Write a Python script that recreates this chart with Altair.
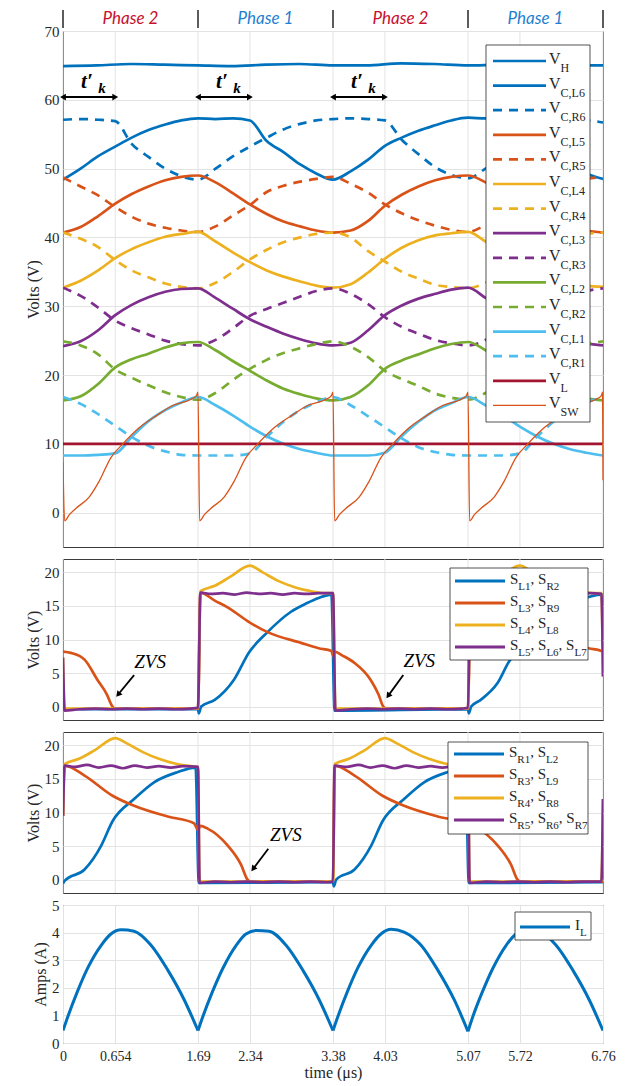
import math
import altair as alt
import pandas as pd

# ---------------- values ----------------
XT = [0, 0.654, 1.69, 2.34, 3.38, 4.03, 5.07, 5.72, 6.76]
PHASE_BOUNDS = [0, 1.69, 3.38, 5.07, 6.76]
PHASE_LABELS = ["Phase 2", "Phase 1", "Phase 2", "Phase 1"]
TK_START = [0, 1.69, 3.38]
TK_END = [0.654, 2.34, 4.03]

# common time grid for the capacitor voltages (us)
T = [0, 0.22, 0.44, 0.654, 0.86, 1.07, 1.28, 1.48, 1.69,
     1.91, 2.13, 2.34, 2.55, 2.76, 2.97, 3.17, 3.38,
     3.60, 3.82, 4.03, 4.24, 4.45, 4.66, 4.86, 5.07,
     5.29, 5.51, 5.72, 5.93, 6.14, 6.35, 6.55, 6.76]

VH_T = [0, 0.42, 0.85, 1.27, 1.69, 2.11, 2.54, 2.96, 3.38, 3.80, 4.23, 4.65, 5.07, 5.49, 5.92, 6.34, 6.76]
VH = [64.9, 65.0, 65.2, 65.1, 65.0, 64.9, 65.1, 65.2, 65.0, 65.0, 65.3, 65.2, 65.0, 65.1, 64.9, 65.0, 65.0]
VL_T = [0, 6.76]
VL = [10.0, 10.0]

VC_L6 = [48.4, 50.0, 51.8, 53.2, 54.5, 55.6, 56.4, 57.0, 57.3,
         57.2, 57.3, 57.0, 54.0, 52.4, 50.6, 49.3, 48.4,
         49.6, 51.3, 53.3, 54.5, 55.5, 56.3, 57.0, 57.4,
         57.3, 57.3, 57.0, 54.0, 52.4, 50.6, 49.3, 48.5]
VC_R6 = [57.1, 57.2, 57.1, 56.9, 53.6, 51.7, 50.0, 48.9, 48.4,
         50.0, 51.8, 53.2, 54.5, 55.7, 56.5, 57.0, 57.2,
         57.3, 57.2, 57.0, 54.2, 52.1, 50.2, 49.1, 48.6,
         50.0, 51.8, 53.2, 54.5, 55.7, 56.5, 57.0, 56.7]
VC_L5 = [40.7, 41.5, 43.1, 44.9, 46.3, 47.4, 48.3, 48.8, 49.0,
         48.0, 46.4, 44.8, 43.4, 42.3, 41.6, 41.0, 40.7,
         41.0, 42.4, 44.6, 46.2, 47.4, 48.3, 48.8, 49.0,
         48.0, 46.4, 44.8, 43.4, 42.3, 41.6, 41.0, 40.7]
VC_R5 = [48.7, 47.4, 46.1, 44.4, 43.0, 42.0, 41.4, 41.0, 40.8,
         41.6, 43.2, 44.7, 46.6, 47.5, 48.1, 48.5, 48.8,
         47.8, 46.5, 44.8, 43.5, 42.5, 41.7, 41.1, 40.8,
         41.8, 43.3, 44.7, 46.6, 47.5, 48.1, 48.5, 48.8]
VC_L4 = [32.7, 33.7, 35.2, 37.0, 38.3, 39.3, 40.1, 40.5, 40.8,
         39.4, 37.8, 36.4, 35.2, 34.3, 33.6, 33.0, 32.7,
         33.2, 34.9, 36.9, 38.5, 39.6, 40.3, 40.6, 40.8,
         39.4, 37.8, 36.4, 35.2, 34.2, 33.5, 33.0, 32.8]
VC_R4 = [40.7, 39.8, 38.6, 36.7, 35.2, 34.2, 33.3, 32.8, 32.6,
         33.4, 35.0, 36.8, 38.2, 39.3, 40.0, 40.5, 40.7,
         40.0, 38.0, 36.5, 35.0, 34.0, 33.1, 32.8, 32.6,
         33.4, 35.0, 36.8, 38.2, 39.3, 40.0, 40.5, 40.7]
VC_L3 = [24.2, 24.9, 26.5, 28.7, 30.2, 31.3, 32.1, 32.5, 32.6,
         31.2, 29.6, 28.1, 27.0, 26.0, 25.2, 24.6, 24.3,
         24.7, 26.5, 28.7, 30.1, 31.1, 31.8, 32.4, 32.7,
         31.2, 29.6, 28.1, 27.0, 26.0, 25.2, 24.6, 24.3]
VC_R3 = [32.7, 31.5, 29.8, 27.9, 26.8, 25.9, 25.0, 24.5, 24.3,
         25.1, 26.8, 28.6, 29.6, 30.5, 31.4, 32.2, 32.6,
         31.8, 30.3, 28.4, 27.0, 26.0, 25.1, 24.6, 24.3,
         25.1, 26.8, 28.6, 29.6, 30.5, 31.4, 32.2, 32.6]
VC_L2 = [16.3, 16.9, 18.7, 21.1, 22.3, 23.1, 24.0, 24.6, 24.8,
         23.6, 22.0, 20.6, 19.2, 18.0, 17.2, 16.6, 16.3,
         16.8, 18.5, 20.9, 22.1, 23.0, 23.9, 24.5, 24.8,
         23.6, 22.0, 20.6, 19.2, 18.0, 17.2, 16.6, 16.3]
VC_R2 = [24.9, 24.3, 23.0, 20.8, 19.6, 18.5, 17.5, 16.8, 16.4,
         17.4, 19.3, 20.9, 22.2, 23.2, 23.9, 24.5, 24.9,
         24.1, 22.6, 20.6, 19.4, 18.4, 17.3, 16.7, 16.4,
         17.4, 19.3, 20.9, 22.2, 23.2, 23.9, 24.5, 24.9]
VC_L1 = [8.3, 8.3, 8.4, 8.6, 11.0, 13.3, 14.9, 16.0, 16.8,
         15.6, 14.1, 12.5, 11.1, 10.0, 9.2, 8.7, 8.3,
         8.3, 8.3, 8.7, 11.1, 13.2, 14.9, 15.9, 16.8,
         15.6, 14.1, 12.5, 11.1, 10.0, 9.2, 8.7, 8.3]
VC_R1 = [16.8, 15.8, 14.3, 12.6, 11.0, 9.7, 8.9, 8.4, 8.3,
         8.3, 8.3, 8.6, 11.0, 13.2, 14.9, 16.0, 16.8,
         15.6, 14.0, 12.4, 10.8, 9.5, 8.8, 8.4, 8.3,
         8.3, 8.3, 8.6, 11.0, 13.2, 14.9, 16.0, 16.8]

VSW_T = [0, 0.02, 0.08, 0.16, 0.33, 0.45, 0.60, 0.75, 0.96, 1.17, 1.38, 1.59, 1.67, 1.69,
         1.71, 1.77, 1.85, 2.02, 2.14, 2.29, 2.44, 2.65, 2.86, 3.07, 3.28, 3.36, 3.38,
         3.40, 3.46, 3.54, 3.71, 3.83, 3.98, 4.13, 4.34, 4.55, 4.76, 4.97, 5.05, 5.07,
         5.09, 5.15, 5.23, 5.40, 5.52, 5.67, 5.82, 6.03, 6.24, 6.45, 6.66, 6.74, 6.755, 6.76]
VSW = [7.4, -1.2, -0.3, 0.6, 2.3, 4.5, 8.0, 10.0, 12.4, 14.1, 15.6, 16.4, 17.0, 17.5,
       -1.2, -0.3, 0.6, 2.3, 4.5, 8.0, 10.0, 12.4, 14.1, 15.6, 16.4, 17.0, 17.5,
       -1.2, -0.3, 0.6, 2.3, 4.5, 8.0, 10.0, 12.4, 14.1, 15.6, 16.4, 17.0, 17.5,
       -1.2, -0.3, 0.6, 2.3, 4.5, 8.0, 10.0, 12.4, 14.1, 15.6, 16.4, 17.0, 17.5, 4.7]

# panel 2 : S_L switches
P2_BLUE_T = [0, 0.02, 1.69, 1.70, 1.73, 1.9, 2.14, 2.33, 2.56, 2.85, 3.05, 3.2, 3.36, 3.40,
             5.07, 5.08, 5.11, 5.23, 5.44, 5.6, 5.72, 5.95, 6.24, 6.5, 6.74, 6.76]
P2_BLUE = [-0.4, -0.4, -0.4, -1.0, 0.0, 1.0, 4.0, 8.1, 11.1, 14.1, 15.4, 16.2, 16.7, -0.6,
           -0.4, -1.0, 0.0, 1.0, 3.5, 7.0, 8.3, 11.3, 14.2, 16.0, 16.7, 16.7]
P2_ORANGE_T = [0, 0.1, 0.27, 0.43, 0.55, 0.62, 0.66,
               1.69, 1.72, 1.9, 2.06, 2.33, 2.56, 2.98, 3.2, 3.36, 3.38,
               3.40, 3.5, 3.65, 3.85, 3.95, 4.01, 4.05,
               5.07, 5.10, 5.28, 5.44, 5.71, 5.94, 6.36, 6.58, 6.74, 6.76]
P2_ORANGE = [8.2, 8.0, 7.0, 4.0, 1.8, 0.0, -0.3,
             -0.3, 17.0, 15.8, 14.8, 12.6, 11.1, 9.5, 8.7, 8.3, 7.6,
             8.2, 7.6, 6.5, 4.0, 1.8, 0.0, -0.3,
             -0.3, 17.0, 15.8, 14.8, 12.6, 11.1, 9.5, 8.7, 8.3, 8.2]
P2_YELLOW_T = [0, 0.02, 1.69, 1.72, 1.9, 2.1, 2.34, 2.5, 2.7, 2.9, 3.1, 3.3, 3.38,
               3.41, 5.07, 5.10, 5.28, 5.48, 5.72, 5.88, 6.08, 6.28, 6.48, 6.68, 6.74, 6.76]
P2_YELLOW = [7.3, -0.3, -0.3, 17.2, 18.0, 19.4, 21.0, 20.0, 18.7, 17.8, 17.2, 16.9, 16.9,
             -0.3, -0.3, 17.2, 18.0, 19.4, 21.0, 20.0, 18.7, 17.8, 17.2, 16.9, 16.9, 4.5]
P2_PURPLE_T = [0, 0.02, 0.2, 0.4, 0.6, 0.8, 1.0, 1.2, 1.4, 1.6, 1.69,
               1.72, 1.85, 2.0, 2.15, 2.3, 2.45, 2.6, 2.75, 2.9, 3.05, 3.2, 3.38,
               3.41, 3.6, 3.8, 4.0, 4.2, 4.4, 4.6, 4.8, 5.0, 5.07,
               5.10, 5.25, 5.4, 5.55, 5.7, 5.85, 6.0, 6.15, 6.3, 6.45, 6.6, 6.74, 6.76]
P2_PURPLE = [7.3, -0.6, -0.4, -0.3, -0.4, -0.3, -0.4, -0.3, -0.4, -0.3, -0.2,
             17.0, 16.8, 16.9, 16.7, 17.0, 16.8, 16.9, 16.7, 16.9, 16.8, 16.9, 16.9,
             -0.6, -0.4, -0.3, -0.4, -0.3, -0.4, -0.3, -0.4, -0.3, -0.2,
             17.0, 16.8, 16.9, 16.7, 17.0, 16.8, 16.9, 16.7, 16.9, 16.8, 16.9, 16.8, 4.5]

# panel 3 : S_R switches
P3_BLUE_T = [0, 0.02, 0.27, 0.48, 0.62, 0.89, 1.14, 1.43, 1.66, 1.70, 3.38,
             3.39, 3.42, 3.65, 3.86, 4.0, 4.27, 4.52, 4.81, 5.04, 5.08, 6.76]
P3_BLUE = [-0.6, -0.2, 1.5, 5.1, 8.7, 12.0, 14.5, 16.0, 16.7, -0.5, -0.4,
           -1.0, 0.0, 1.5, 5.1, 8.7, 12.0, 14.5, 16.0, 16.7, -0.5, -0.4]
P3_ORANGE_T = [0, 0.02, 0.27, 0.62, 0.89, 1.31, 1.64, 1.69, 1.72, 1.81, 2.06, 2.23, 2.31, 2.35,
               3.38, 3.40, 3.65, 4.0, 4.27, 4.69, 5.02, 5.07, 5.10, 5.19, 5.44, 5.61, 5.69, 5.73, 6.76]
P3_ORANGE = [9.5, 17.0, 15.5, 12.5, 11.0, 9.4, 8.4, 7.4, 8.0, 7.6, 5.1, 2.2, 0.0, -0.3,
             -0.3, 17.0, 15.5, 12.5, 11.0, 9.4, 8.4, 7.4, 8.0, 7.6, 5.1, 2.2, 0.0, -0.3, -0.3]
P3_YELLOW_T = [0, 0.02, 0.2, 0.4, 0.654, 0.8, 1.0, 1.2, 1.4, 1.6, 1.69, 1.71, 3.38,
               3.40, 3.58, 3.78, 4.03, 4.18, 4.38, 4.58, 4.78, 4.98, 5.07, 5.09, 6.74, 6.76]
P3_YELLOW = [9.5, 17.2, 18.0, 19.3, 21.1, 20.3, 19.0, 18.0, 17.3, 16.9, 16.8, -0.3, -0.3,
             17.2, 18.0, 19.3, 21.1, 20.3, 19.0, 18.0, 17.3, 16.9, 16.8, -0.3, -0.3, 12.0]
P3_PURPLE_T = [0, 0.02, 0.15, 0.3, 0.45, 0.6, 0.75, 0.9, 1.05, 1.2, 1.35, 1.5, 1.69,
               1.71, 1.9, 2.1, 2.3, 2.5, 2.7, 2.9, 3.1, 3.3, 3.38,
               3.40, 3.55, 3.7, 3.85, 4.0, 4.15, 4.3, 4.45, 4.6, 4.75, 4.9, 5.07,
               5.09, 5.3, 5.5, 5.7, 5.9, 6.1, 6.3, 6.5, 6.74, 6.76]
P3_PURPLE = [9.5, 17.0, 16.8, 17.1, 16.7, 17.0, 16.6, 17.0, 16.7, 16.9, 16.7, 16.9, 16.8,
             -0.5, -0.3, -0.4, -0.3, -0.4, -0.3, -0.4, -0.3, -0.4, -0.3,
             17.0, 16.8, 17.1, 16.7, 17.0, 16.6, 17.0, 16.7, 16.9, 16.7, 16.9, 16.8,
             -0.5, -0.3, -0.4, -0.3, -0.4, -0.3, -0.4, -0.3, -0.3, 12.0]

# panel 4 : inductor current
IL_T = [0, 0.06, 0.18, 0.31, 0.48, 0.6, 0.73, 0.89, 1.1, 1.31, 1.52, 1.69,
        1.75, 1.87, 2.0, 2.17, 2.29, 2.42, 2.58, 2.79, 3.0, 3.21, 3.38,
        3.44, 3.56, 3.69, 3.86, 3.98, 4.11, 4.27, 4.48, 4.69, 4.90, 5.07,
        5.13, 5.25, 5.38, 5.55, 5.67, 5.80, 5.96, 6.17, 6.38, 6.59, 6.76]
IL = [0.45, 0.95, 1.86, 2.72, 3.55, 3.95, 4.1, 4.05, 3.55, 2.65, 1.55, 0.45,
      0.95, 1.85, 2.7, 3.55, 3.95, 4.08, 4.05, 3.55, 2.65, 1.55, 0.45,
      0.95, 1.86, 2.72, 3.55, 3.95, 4.12, 4.02, 3.55, 2.65, 1.55, 0.42,
      0.95, 1.85, 2.7, 3.55, 3.95, 4.1, 4.05, 3.55, 2.65, 1.55, 0.45]

ZVS2_TEXT = [(1.09, 6.7), (4.46, 6.8)]
ZVS2_ARROW = [(0.89, 4.7, 0.69, 1.8), (4.26, 4.7, 4.07, 1.6)]
ZVS3_TEXT = [(2.79, 6.6)]
ZVS3_ARROW = [(2.57, 4.6, 2.38, 1.6)]

# ---------------- styling ----------------
BLUE = "#0072BD"
ORANGE = "#D95319"
YELLOW = "#EDB120"
PURPLE = "#7E2F8E"
GREEN = "#77AC30"
LBLUE = "#4DBEEE"
DRED = "#A2142F"
PH_RED = "#C8102E"
PH_BLUE = "#1F7FD0"
AX = "#262626"
GRID = "#e3e3e3"
FONT = "Liberation Serif, Times New Roman, serif"
DASH = [9, 7]
LW = 2.7

W = 540
XD = [0, 6.76]
XS = alt.Scale(domain=XD, nice=False, zero=False)
H1, H2, H3, H4 = 516, 161, 161, 138

CW = {'V': 0.722, 'S': 0.556, 'I': 0.333, 'H': 0.722, 'C': 0.667, 'L': 0.611,
      'R': 0.667, 'W': 0.944, ',': 0.25, ' ': 0.25}


def text_width(s, size):
    return sum(CW.get(ch, 0.5) * size for ch in s)


class Panel:
    def __init__(self, dom, H, yticks, ytitle, bottom):
        self.dom, self.H, self.ytitle, self.bottom = dom, H, ytitle, bottom
        self.ys = alt.Scale(domain=dom, nice=False, zero=False)
        self.yax = alt.Axis(values=yticks, ticks=False, domain=False, grid=True, gridColor=GRID,
                            labelFont=FONT, labelFontSize=15, labelColor=AX, labelPadding=4,
                            labelFlush=False, titleFont=FONT, titleFontSize=16,
                            titleFontWeight="normal", titleColor=AX, titlePadding=3)
        if bottom:
            self.xax = alt.Axis(values=XT, format=".3~g", ticks=False, domain=False, grid=True,
                                gridColor=GRID, labelFont=FONT, labelFontSize=14, labelColor=AX,
                                labelPadding=6, labelFlush=False, labelOverlap=False,
                                titleFont=FONT, titleFontSize=16,
                                titleFontWeight="normal", titleColor=AX, titlePadding=1)
            self.xtitle = "time (μs)"
        else:
            self.xax = None
            self.xtitle = None

    def px2x(self, px):
        return XD[0] + px / W * (XD[1] - XD[0])

    def px2y(self, py):
        return self.dom[1] - py / self.H * (self.dom[1] - self.dom[0])

    def X(self, f):
        return alt.X(f, type="quantitative", scale=XS, axis=self.xax, title=self.xtitle)

    def Y(self, f):
        return alt.Y(f, type="quantitative", scale=self.ys, axis=self.yax, title=self.ytitle)

    def vgrid(self):
        gdf = pd.DataFrame({"g": XT})
        return alt.Chart(gdf).mark_rule(color=GRID, strokeWidth=1).encode(x=self.X("g"))


def line(P, t, v, color, width=LW, dash=None, interp="monotone"):
    df = pd.DataFrame({"t": t, "v": v, "i": list(range(len(t)))})
    kw = dict(color=color, strokeWidth=width, strokeCap="butt", strokeJoin="round", clip=True,
              interpolate=interp)
    if dash:
        kw["strokeDash"] = dash
    return alt.Chart(df).mark_line(**kw).encode(x=P.X("t"), y=P.Y("v"), order="i:Q")


def legend(P, items, box, row0, row_h, lx0, lx1, tx, main, sub, sub_dy):
    layers = []
    bx = pd.DataFrame({"x": [P.px2x(box[0])], "x2": [P.px2x(box[2])],
                       "y": [P.px2y(box[1])], "y2": [P.px2y(box[3])]})
    layers.append(alt.Chart(bx).mark_rect(fill="white", stroke=AX, strokeWidth=0.8).encode(
        x=P.X("x"), x2="x2", y=P.Y("y"), y2="y2"))
    mains, subs = [], []
    for k, (color, dash, width, pieces) in enumerate(items):
        yy = P.px2y(row0 + k * row_h)
        df = pd.DataFrame({"x": [P.px2x(lx0)], "x2": [P.px2x(lx1)], "y": [yy]})
        kw = dict(color=color, strokeWidth=width, strokeCap="butt")
        if dash:
            kw["strokeDash"] = dash
        layers.append(alt.Chart(df).mark_rule(**kw).encode(x=P.X("x"), x2="x2", y=P.Y("y")))
        cx = tx
        for text, is_sub in pieces:
            size = sub if is_sub else main
            (subs if is_sub else mains).append({"x": P.px2x(cx), "y": yy, "text": text})
            cx += text_width(text, size)
    layers.append(alt.Chart(pd.DataFrame(mains)).mark_text(
        align="left", baseline="middle", font=FONT, fontSize=main, color=AX, dy=-2).encode(
        x=P.X("x"), y=P.Y("y"), text="text:N"))
    layers.append(alt.Chart(pd.DataFrame(subs)).mark_text(
        align="left", baseline="middle", font=FONT, fontSize=sub, color=AX, dy=sub_dy).encode(
        x=P.X("x"), y=P.Y("y"), text="text:N"))
    return layers


def zvs(P, texts, arrows):
    layers = []
    tdf = pd.DataFrame({"x": [a for a, b in texts], "y": [b for a, b in texts], "s": ["ZVS"] * len(texts)})
    layers.append(alt.Chart(tdf).mark_text(font=FONT, fontStyle="italic", fontSize=19,
                                           align="center", baseline="middle", color="black").encode(
        x=P.X("x"), y=P.Y("y"), text="s:N"))
    sx = W / (XD[1] - XD[0])
    sy = P.H / (P.dom[1] - P.dom[0])
    rows = []
    for x0, y0, x1, y1 in arrows:
        dx = (x1 - x0) * sx
        dy = -(y1 - y0) * sy
        ang = math.degrees(math.atan2(dx, -dy)) % 360
        rows.append({"x0": x0, "y0": y0, "x1": x1, "y1": y1, "ang": ang})
    adf = pd.DataFrame(rows)
    layers.append(alt.Chart(adf).mark_rule(color="black", strokeWidth=1.8).encode(
        x=P.X("x0"), y=P.Y("y0"), x2="x1", y2="y1"))
    layers.append(alt.Chart(adf).mark_point(shape="triangle-up", filled=True, color="black",
                                            size=45, opacity=1).encode(
        x=P.X("x1"), y=P.Y("y1"), angle=alt.Angle("ang:Q", scale=None)))
    return layers


# ---------------- panel 1 ----------------
P1 = Panel([-5, 70], H1, [0, 10, 20, 30, 40, 50, 60, 70], "Volts (V)", False)
p1_series = [
    (VH_T, VH, BLUE, None, LW), (T, VC_L6, BLUE, None, LW), (T, VC_R6, BLUE, DASH, LW),
    (T, VC_L5, ORANGE, None, LW), (T, VC_R5, ORANGE, DASH, LW),
    (T, VC_L4, YELLOW, None, LW), (T, VC_R4, YELLOW, DASH, LW),
    (T, VC_L3, PURPLE, None, LW), (T, VC_R3, PURPLE, DASH, LW),
    (T, VC_L2, GREEN, None, LW), (T, VC_R2, GREEN, DASH, LW),
    (T, VC_L1, LBLUE, None, LW), (T, VC_R1, LBLUE, DASH, LW),
    (VL_T, VL, DRED, None, LW), (VSW_T, VSW, ORANGE, None, 1.3),
]
p1_names = ["H", "C,L6", "C,R6", "C,L5", "C,R5", "C,L4", "C,R4", "C,L3", "C,R3",
            "C,L2", "C,R2", "C,L1", "C,R1", "L", "SW"]
layers1 = [P1.vgrid()]
layers1 += [line(P1, t, v, c, w, d) for t, v, c, d, w in p1_series]
items1 = [(c, d, w, [("V", False), (n, True)]) for (t, v, c, d, w), n in zip(p1_series, p1_names)]
layers1 += legend(P1, items1, (423, 14, 527, 391), 30, 24.6, 430, 483, 486, 16, 12, 7)

# t'k arrows
tk_df = pd.DataFrame({"x0": TK_START, "x1": TK_END, "y": [60.4] * 3})
layers1.append(alt.Chart(tk_df).mark_rule(color="black", strokeWidth=2).encode(
    x=P1.X("x0"), x2="x1", y=P1.Y("y")))
heads = pd.DataFrame({"x": TK_START + TK_END, "y": [60.4] * 6,
                      "shape": ["triangle-left"] * 3 + ["triangle-right"] * 3})
layers1.append(alt.Chart(heads).mark_point(filled=True, color="black", size=45, opacity=1).encode(
    x=P1.X("x"), y=P1.Y("y"), shape=alt.Shape("shape:N", scale=None)))
tdf = pd.DataFrame({"x": [s + 0.30 for s in TK_START], "y": [61.7] * 3, "s": ["t′"] * 3})
layers1.append(alt.Chart(tdf).mark_text(font=FONT, fontStyle="italic", fontWeight="bold", fontSize=21,
                                        align="center", baseline="alphabetic", color="black").encode(
    x=P1.X("x"), y=P1.Y("y"), text="s:N"))
kdf = pd.DataFrame({"x": [s + 0.44 for s in TK_START], "y": [60.95] * 3, "s": ["k"] * 3})
layers1.append(alt.Chart(kdf).mark_text(font=FONT, fontStyle="italic", fontWeight="bold", fontSize=15,
                                        align="left", baseline="alphabetic", color="black").encode(
    x=P1.X("x"), y=P1.Y("y"), text="s:N"))

# phase header
bdf = pd.DataFrame({"x": PHASE_BOUNDS})
layers1.append(alt.Chart(bdf).mark_rule(color=AX, strokeWidth=1.5).encode(
    x=P1.X("x"), y=alt.value(-21), y2=alt.value(-3)))
hdf = pd.DataFrame({"x": [(a + b) / 2 for a, b in zip(PHASE_BOUNDS[:-1], PHASE_BOUNDS[1:])],
                    "label": PHASE_LABELS})
layers1.append(alt.Chart(hdf).mark_text(font="Lato", fontStyle="italic", fontSize=17,
                                        baseline="middle", align="center").encode(
    x=P1.X("x"), y=alt.value(-12), text="label:N",
    color=alt.Color("label:N", scale=alt.Scale(domain=["Phase 2", "Phase 1"], range=[PH_RED, PH_BLUE]),
                    legend=None)))
panel1 = alt.layer(*layers1).properties(width=W, height=H1)

# ---------------- panel 2 ----------------
P2 = Panel([-2, 22], H2, [0, 5, 10, 15, 20], "Volts (V)", False)
layers2 = [P2.vgrid(),
           line(P2, P2_BLUE_T, P2_BLUE, BLUE), line(P2, P2_ORANGE_T, P2_ORANGE, ORANGE),
           line(P2, P2_YELLOW_T, P2_YELLOW, YELLOW), line(P2, P2_PURPLE_T, P2_PURPLE, PURPLE)]
items2 = [(BLUE, None, 3, [("S", False), ("L1", True), (", ", False), ("S", False), ("R2", True)]),
          (ORANGE, None, 3, [("S", False), ("L3", True), (", ", False), ("S", False), ("R9", True)]),
          (YELLOW, None, 3, [("S", False), ("L4", True), (", ", False), ("S", False), ("L8", True)]),
          (PURPLE, None, 3, [("S", False), ("L5", True), (", ", False), ("S", False), ("L6", True),
                             (", ", False), ("S", False), ("L7", True)])]
layers2 += zvs(P2, ZVS2_TEXT, ZVS2_ARROW)
layers2 += legend(P2, items2, (387, 9, 525, 101), 22, 22, 392, 442, 447, 15, 11, 6)
panel2 = alt.layer(*layers2).properties(width=W, height=H2)

# ---------------- panel 3 ----------------
P3 = Panel([-2, 22], H3, [0, 5, 10, 15, 20], "Volts (V)", False)
layers3 = [P3.vgrid(),
           line(P3, P3_BLUE_T, P3_BLUE, BLUE), line(P3, P3_ORANGE_T, P3_ORANGE, ORANGE),
           line(P3, P3_YELLOW_T, P3_YELLOW, YELLOW), line(P3, P3_PURPLE_T, P3_PURPLE, PURPLE)]
items3 = [(BLUE, None, 3, [("S", False), ("R1", True), (", ", False), ("S", False), ("L2", True)]),
          (ORANGE, None, 3, [("S", False), ("R3", True), (", ", False), ("S", False), ("L9", True)]),
          (YELLOW, None, 3, [("S", False), ("R4", True), (", ", False), ("S", False), ("R8", True)]),
          (PURPLE, None, 3, [("S", False), ("R5", True), (", ", False), ("S", False), ("R6", True),
                             (", ", False), ("S", False), ("R7", True)])]
layers3 += zvs(P3, ZVS3_TEXT, ZVS3_ARROW)
layers3 += legend(P3, items3, (385, 10, 525, 102), 22, 22, 391, 441, 446, 15, 11, 6)
panel3 = alt.layer(*layers3).properties(width=W, height=H3)

# ---------------- panel 4 ----------------
P4 = Panel([0, 5], H4, [0, 1, 2, 3, 4, 5], "Amps (A)", True)
# split the current into its half-period humps so the minima stay sharp cusps
il_rows = []
for h in range(len(PHASE_BOUNDS) - 1):
    a, b = PHASE_BOUNDS[h], PHASE_BOUNDS[h + 1]
    for t, v in zip(IL_T, IL):
        if a - 1e-9 <= t <= b + 1e-9:
            il_rows.append({"t": t, "v": v, "hump": h})
il_df = pd.DataFrame(il_rows)
layers4 = [alt.Chart(il_df).mark_line(color=BLUE, strokeWidth=3.0, interpolate="monotone",
                                      strokeJoin="round", clip=True).encode(
    x=P4.X("t"), y=P4.Y("v"), detail="hump:N", order="t:Q")]
items4 = [(BLUE, None, 3, [("I", False), ("L", True)])]
layers4 += legend(P4, items4, (452, 7, 528, 35), 22, 22, 457, 507, 512, 15, 11, 6)
panel4 = alt.layer(*layers4).properties(width=W, height=H4)

chart = alt.vconcat(panel1, panel2, panel3, panel4, spacing=12, bounds="flush").properties(
    padding={"left": 16, "top": 0, "right": 10, "bottom": 0},
    background="white",
).configure_view(stroke="#3a3a3a", strokeWidth=1).configure_axis(
    labelFont=FONT, titleFont=FONT).configure_text(font=FONT)

chart.save("out.html", embed_options={"renderer": "svg", "actions": False})
